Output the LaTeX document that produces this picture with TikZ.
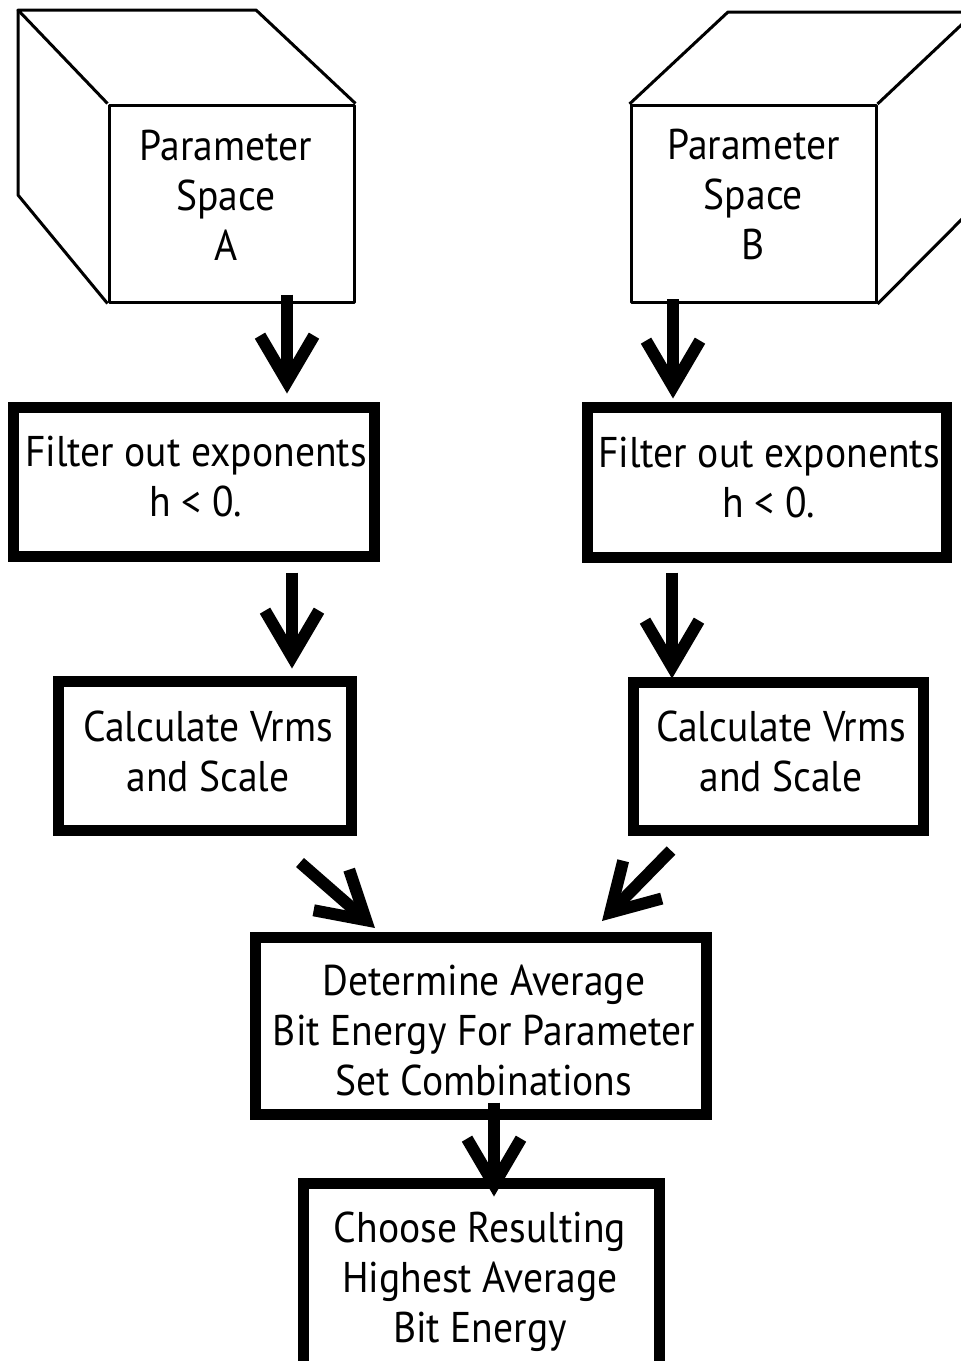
\documentclass[tikz,border=0pt]{standalone}
\usepackage{fontspec}
\setmainfont[FakeStretch=0.92]{PT Sans}
\usetikzlibrary{arrows.meta,calc}
\begin{document}
\begin{tikzpicture}[x=1pt,y=-1pt,
  every node/.style={font=\fontsize{43}{50}\selectfont, align=center, inner sep=0pt},
  cubeline/.style={line width=3pt, line join=round},
  cubeface/.style={draw, cubeline, minimum width=245pt, minimum height=197pt},
  stepbox/.style={draw, line width=11pt, line join=miter},
  flow/.style={line width=12pt, -{Straight Barb[length=46pt,width=54pt,line join=miter]}},
]
\useasboundingbox (0,0) rectangle (961,1361);
\clip (0,0) rectangle (961,1361);

% parameter space A
\node[cubeface] (cubeA) at (231.5,203.5) {};
\node (cubeAtext) at ([shift={(-5.5,-8)}]cubeA.center) {Parameter\\Space\\A};
\draw[cubeline] (cubeA.north west) -- (18,10) -- (256,10) -- (cubeA.north east);
\draw[cubeline] (18,10) -- (18,195) -- (cubeA.south west);

% parameter space B
\node[cubeface] (cubeB) at (753.5,204) {};
\node (cubeBtext) at ([shift={(0,-10)}]cubeB.center) {Parameter\\Space\\B};
\draw[cubeline] (cubeB.north west) -- (728,12) -- (975,12) -- (cubeB.north east);
\draw[cubeline] (cubeB.south east) -- (975,206);

% processing steps
\node[stepbox, minimum width=361pt, minimum height=149pt] (filtA) at (194,482) {};
\node (filtAtext) at ([shift={(2,-5)}]filtA.center) {Filter out exponents\\h < 0.};
\node[stepbox, minimum width=359pt, minimum height=150pt] (filtB) at (767,482.5) {};
\node (filtBtext) at ([shift={(2,-5)}]filtB.center) {Filter out exponents\\h < 0.};
\node[stepbox, minimum width=293pt, minimum height=149pt] (calcA) at (205,756) {};
\node (calcAtext) at ([shift={(3,-5)}]calcA.center) {Calculate Vrms\\and Scale};
\node[stepbox, minimum width=290pt, minimum height=148pt] (calcB) at (778.5,756.5) {};
\node (calcBtext) at ([shift={(2.5,-5)}]calcB.center) {Calculate Vrms\\and Scale};
\node[stepbox, minimum width=451pt, minimum height=177pt] (avg) at (481,1026) {};
\node (avgtext) at ([shift={(3,4)}]avg.center) {Determine Average\\Bit Energy For Parameter\\Set Combinations};
\node[stepbox, minimum width=356pt, minimum height=189pt] (best) at (481.5,1278) {};
\node (besttext) at ([shift={(-1.5,4)}]best.center) {Choose Resulting\\Highest Average\\Bit Energy};

% connectors
\draw[flow] ([xshift=55.5pt,yshift=9pt]cubeA.south) -- ([xshift=93pt,yshift=8.5pt]filtA.north);
\draw[flow] ([xshift=98pt,yshift=-10.5pt]filtA.south) -- ([xshift=87pt,yshift=7.5pt]calcA.north);
\draw[flow] ([xshift=95pt,yshift=-26.5pt]calcA.south) -- ([xshift=-106pt,yshift=4pt]avg.north);
\draw[flow] ([xshift=-80.5pt,yshift=5pt]cubeB.south) -- ([xshift=-94pt,yshift=3.5pt]filtB.north);
\draw[flow] ([xshift=-95pt,yshift=-9.5pt]filtB.south) -- ([xshift=-106.5pt,yshift=-1.5pt]calcB.north);
\draw[flow] ([xshift=-107.5pt,yshift=-14.5pt]calcB.south) -- ([xshift=121pt,yshift=11pt]avg.north);
\draw[flow] ([xshift=13pt,yshift=17.5pt]avg.south) -- ([xshift=12.5pt,yshift=-18.5pt]best.north);
\end{tikzpicture}
\end{document}
